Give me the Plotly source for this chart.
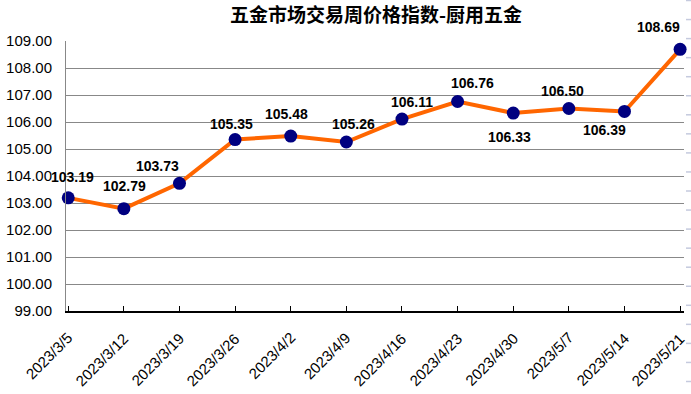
import plotly.graph_objects as go

categories = ["2023/3/5", "2023/3/12", "2023/3/19", "2023/3/26", "2023/4/2", "2023/4/9",
              "2023/4/16", "2023/4/23", "2023/4/30", "2023/5/7", "2023/5/14", "2023/5/21"]
values = [103.19, 102.79, 103.73, 105.35, 105.48, 105.26, 106.11, 106.76, 106.33, 106.50, 106.39, 108.69]
y_ticks = [99, 100, 101, 102, 103, 104, 105, 106, 107, 108, 109]

# label offsets in pixels (dx, dy; dy positive = up)
label_offsets = [(4, 21), (1, 23), (-22, 17), (-4, 16), (-4, 22), (7, 18),
                 (10, 17), (15, 18), (-4, -24), (-6, 18), (-20, -19), (-22, 22)]

W, H = 691, 394
ML, MR, MT, MB = 66, 7, 41, 83

fig = go.Figure()
fig.add_trace(go.Scatter(
    x=list(range(len(categories))), y=values, mode="lines+markers",
    line=dict(color="#FF6600", width=4),
    marker=dict(color="#000080", size=13),
    hoverinfo="skip", showlegend=False, cliponaxis=False,
))

annotations = []
for i, (v, (dx, dy)) in enumerate(zip(values, label_offsets)):
    annotations.append(dict(
        x=i, y=v, xref="x", yref="y", text=f"{v:.2f}", showarrow=False,
        xshift=dx, yshift=dy, xanchor="center", yanchor="middle",
        font=dict(family="Arial, Liberation Sans", size=14, color="black", weight="bold"),
    ))

# rotated category labels
for i, c in enumerate(categories):
    annotations.append(dict(
        x=i, y=0, xref="x", yref="paper", text=c, showarrow=False,
        textangle=-45, xanchor="right", yanchor="top", xshift=9, yshift=-17,
        borderpad=0,
        font=dict(family="Arial, Liberation Sans", size=15, color="black"),
    ))

# faint dashes at the right edge (residue of neighbouring chart)
shapes = []
pw = W - ML - MR
ph = H - MT - MB
for k in range(21):
    py = 0.5 + 19.05 * k
    if py > 382:
        break
    yp = (H - MB - py) / ph
    shapes.append(dict(type="line", xref="paper", yref="paper",
                       x0=(686 - ML) / pw, x1=(691 - ML) / pw, y0=yp, y1=yp,
                       line=dict(color="#c5cade", width=1.5)))

fig.update_layout(
    width=W, height=H,
    margin=dict(l=ML, r=MR, t=MT, b=MB),
    paper_bgcolor="white", plot_bgcolor="white",
    title=dict(text="五金市场交易周价格指数-厨用五金", x=(376) / W, xanchor="center",
               y=1 - 15 / H, yanchor="middle", automargin=False,
               font=dict(family="Noto Sans CJK SC", size=19, color="black", weight="bold")),
    xaxis=dict(
        tickmode="array", tickvals=list(range(len(categories))),
        showticklabels=False,
        range=[-0.04, 11.07], automargin=False,
        showgrid=False, zeroline=False,
        showline=True, linecolor="black", linewidth=1.5,
        ticks="inside", ticklen=5, tickcolor="black",
    ),
    yaxis=dict(
        range=[99, 109], tickmode="array", tickvals=y_ticks, automargin=False,
        ticktext=[f"{t:.2f}" for t in y_ticks],
        showgrid=True, gridcolor="#888888", gridwidth=1,
        zeroline=False, showline=True, linecolor="#888888", linewidth=1,
        ticks="", ticklabelstandoff=10,
        tickfont=dict(family="Arial, Liberation Sans", size=15, color="black"),
    ),
    annotations=annotations,
    shapes=shapes,
)

fig.write_html("out.html", config={"displayModeBar": False},
               post_script="document.body.style.margin='0';document.body.style.overflow='hidden';")
